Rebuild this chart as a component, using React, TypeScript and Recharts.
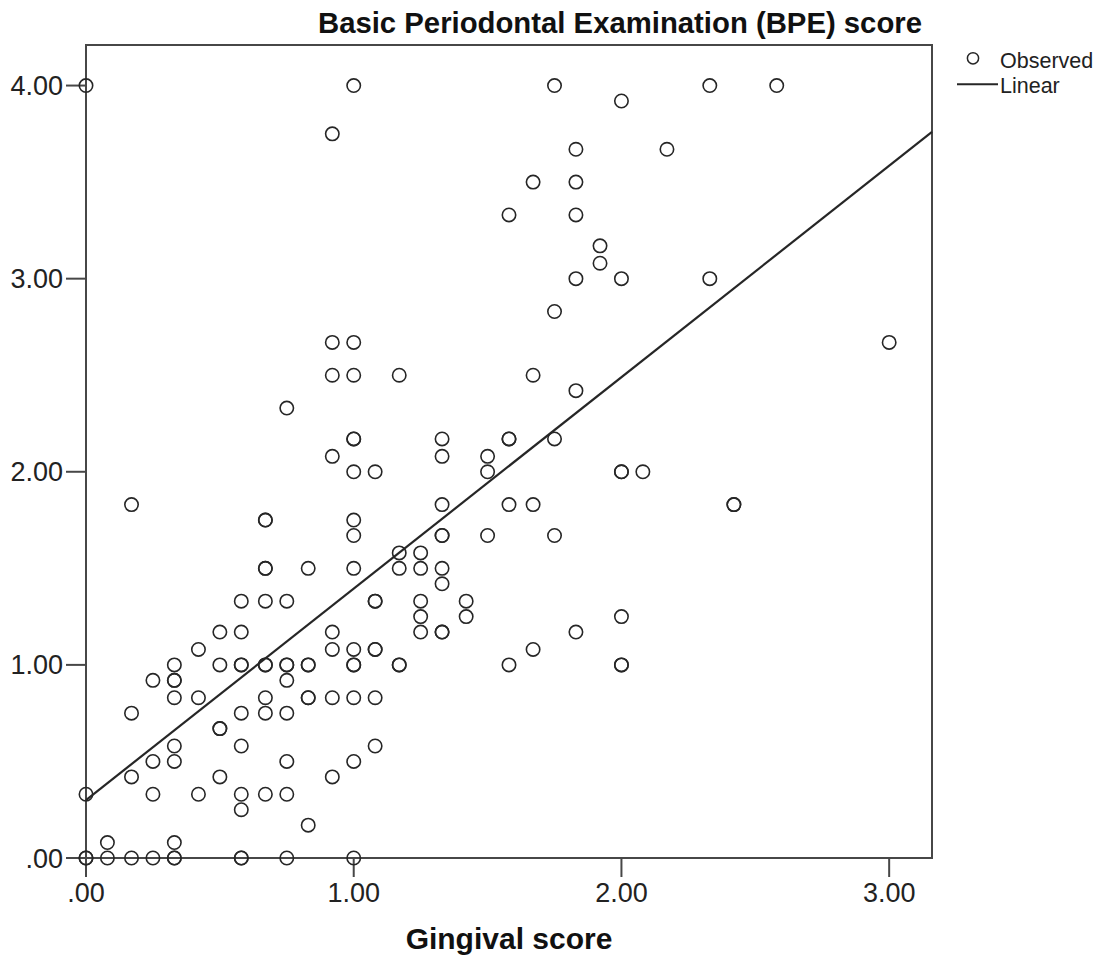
import React from 'react';
import { ScatterChart, Scatter, XAxis, YAxis, ReferenceArea, Legend, Label } from 'recharts';

const chartTitle = 'Basic Periodontal Examination (BPE) score';
const xAxisTitle = 'Gingival score';
const legendLabels = ['Observed', 'Linear'];

const xTicks = [0, 1, 2, 3];
const yTicks = [0, 1, 2, 3, 4];
const xDomain = [0, 3.16];
const yDomain = [0, 4.21];

// [Gingival score, BPE score]
const observedPoints: number[][] = [
  [0, 4], [1, 4], [1.75, 4], [2.33, 4], [2.58, 4],
  [0.92, 3.75], [2, 3.92],
  [1.83, 3.67], [2.17, 3.67],
  [1.67, 3.5], [1.83, 3.5],
  [1.58, 3.33], [1.83, 3.33],
  [1.92, 3.17], [1.92, 3.08],
  [1.83, 3], [2, 3], [2.33, 3],
  [1.75, 2.83],
  [0.92, 2.67], [1, 2.67], [3, 2.67],
  [0.92, 2.5], [1, 2.5], [1.17, 2.5], [1.67, 2.5],
  [1.83, 2.42],
  [0.75, 2.33],
  [1, 2.17], [1, 2.17], [1.33, 2.17], [1.58, 2.17], [1.58, 2.17], [1.75, 2.17],
  [0.92, 2.08], [1.33, 2.08], [1.5, 2.08],
  [1, 2], [1.08, 2], [1.5, 2], [2, 2], [2, 2], [2.08, 2],
  [0.17, 1.83], [1.33, 1.83], [1.58, 1.83], [1.67, 1.83], [2.42, 1.83], [2.42, 1.83],
  [0.67, 1.75], [0.67, 1.75], [1, 1.75],
  [1, 1.67], [1.33, 1.67], [1.33, 1.67], [1.5, 1.67], [1.75, 1.67],
  [1.17, 1.58], [1.25, 1.58],
  [0.67, 1.5], [0.67, 1.5], [0.83, 1.5], [1, 1.5], [1.17, 1.5], [1.25, 1.5], [1.33, 1.5],
  [1.33, 1.42],
  [0.58, 1.33], [0.67, 1.33], [0.75, 1.33], [1.08, 1.33], [1.08, 1.33], [1.25, 1.33], [1.42, 1.33],
  [1.25, 1.25], [1.42, 1.25], [2, 1.25],
  [0.5, 1.17], [0.58, 1.17], [0.92, 1.17], [1.25, 1.17], [1.33, 1.17], [1.33, 1.17], [1.83, 1.17],
  [0.42, 1.08], [0.92, 1.08], [1, 1.08], [1.08, 1.08], [1.08, 1.08], [1.67, 1.08],
  [0.33, 1], [0.5, 1], [0.58, 1], [0.58, 1], [0.67, 1], [0.67, 1], [0.75, 1], [0.75, 1],
  [0.83, 1], [0.83, 1], [1, 1], [1, 1], [1.17, 1], [1.17, 1], [1.58, 1], [2, 1], [2, 1],
  [0.25, 0.92], [0.33, 0.92], [0.33, 0.92], [0.75, 0.92],
  [0.33, 0.83], [0.42, 0.83], [0.67, 0.83], [0.83, 0.83], [0.83, 0.83], [0.92, 0.83], [1, 0.83], [1.08, 0.83],
  [0.17, 0.75], [0.58, 0.75], [0.67, 0.75], [0.75, 0.75],
  [0.5, 0.67], [0.5, 0.67],
  [0.33, 0.58], [0.58, 0.58], [1.08, 0.58],
  [0.25, 0.5], [0.33, 0.5], [0.75, 0.5], [1, 0.5],
  [0.17, 0.42], [0.5, 0.42], [0.92, 0.42],
  [0, 0.33], [0.25, 0.33], [0.42, 0.33], [0.58, 0.33], [0.67, 0.33], [0.75, 0.33],
  [0.58, 0.25], [0.83, 0.17],
  [0.08, 0.08], [0.33, 0.08],
  [0, 0], [0, 0], [0.08, 0], [0.17, 0], [0.25, 0], [0.33, 0], [0.33, 0], [0.58, 0], [0.58, 0], [0.75, 0], [1, 0],
];

// Linear fit line end points [Gingival score, BPE score]
const linearFitPoints: number[][] = [
  [0, 0.3],
  [3.16, 3.76],
];

const observedData = observedPoints.map(([g, b]) => ({ gingival: g, bpe: b }));
const fitData = linearFitPoints.map(([g, b]) => ({ gingival: g, bpe: b }));

const FONT = '"Liberation Sans", Arial, Helvetica, sans-serif';
const INK = '#262626';
const FRAME = '#474747';

const fmt = (v: number) => (v === 0 ? '.00' : v.toFixed(2));

const OpenCircle = (props: any) => {
  const { cx, cy } = props;
  if (cx == null || cy == null) return <g />;
  return <circle cx={cx} cy={cy} r={6.7} fill="none" stroke={INK} strokeWidth={1.6} />;
};

const NoShape = () => <g />;

const TitleLabel = (props: any) => {
  const vb = props.viewBox || {};
  return (
    <text
      x={vb.x + vb.width - 10}
      y={vb.y - 12.5}
      textAnchor="end"
      fontFamily={FONT}
      fontSize={29.3}
      fontWeight="bold"
      fill="#111"
    >
      {chartTitle}
    </text>
  );
};

const LegendContent = () => (
  <svg width={150} height={60} style={{ display: 'block', overflow: 'visible' }}>
    <circle cx={18} cy={13.3} r={5.6} fill="none" stroke={INK} strokeWidth={1.5} />
    <text x={45} y={23.3} fontFamily={FONT} fontSize={21.5} fill="#222">
      {legendLabels[0]}
    </text>
    <line x1={2} x2={43} y1={39.3} y2={39.3} stroke={INK} strokeWidth={2} />
    <text x={45} y={48.3} fontFamily={FONT} fontSize={21.5} fill="#222">
      {legendLabels[1]}
    </text>
  </svg>
);

export default function App() {
  return (
    <div style={{ position: 'absolute', left: 0, top: 0, width: 1102, height: 961, background: '#fff' }}>
      <ScatterChart
        width={1102}
        height={961}
        margin={{ top: 45, right: 170, bottom: 43, left: 26 }}
      >
        <XAxis
          type="number"
          dataKey="gingival"
          domain={xDomain}
          ticks={xTicks}
          interval={0}
          tickFormatter={fmt}
          height={60}
          tickSize={19}
          tickMargin={6}
          axisLine={{ stroke: FRAME, strokeWidth: 2 }}
          tickLine={{ stroke: FRAME, strokeWidth: 2 }}
          tick={{ fill: '#222', fontSize: 27, fontFamily: FONT }}
        >
          <Label
            value={xAxisTitle}
            position="bottom"
            offset={10}
            fontFamily={FONT}
            fontSize={30}
            fontWeight="bold"
            fill="#111"
          />
        </XAxis>
        <YAxis
          type="number"
          dataKey="bpe"
          domain={yDomain}
          ticks={yTicks}
          interval={0}
          tickFormatter={fmt}
          width={60}
          tickSize={20}
          tickMargin={3}
          axisLine={{ stroke: FRAME, strokeWidth: 2 }}
          tickLine={{ stroke: FRAME, strokeWidth: 2 }}
          tick={{ fill: '#222', fontSize: 27, fontFamily: FONT }}
        />
        <ReferenceArea
          x1={xDomain[0]}
          x2={xDomain[1]}
          y1={yDomain[0]}
          y2={yDomain[1]}
          fill="none"
          fillOpacity={0}
          stroke={FRAME}
          strokeWidth={2}
          ifOverflow="visible"
          label={<TitleLabel />}
        />
        <Legend
          layout="vertical"
          align="center"
          verticalAlign="middle"
          content={<LegendContent />}
          wrapperStyle={{ position: 'absolute', left: 955, top: 45, width: 150, height: 60 }}
        />
        <Scatter
          name={legendLabels[1]}
          data={fitData}
          line={{ stroke: INK, strokeWidth: 2.2 }}
          lineType="joint"
          shape={<NoShape />}
          legendType="none"
          isAnimationActive={false}
        />
        <Scatter
          name={legendLabels[0]}
          data={observedData}
          shape={<OpenCircle />}
          isAnimationActive={false}
        />
      </ScatterChart>
    </div>
  );
}
